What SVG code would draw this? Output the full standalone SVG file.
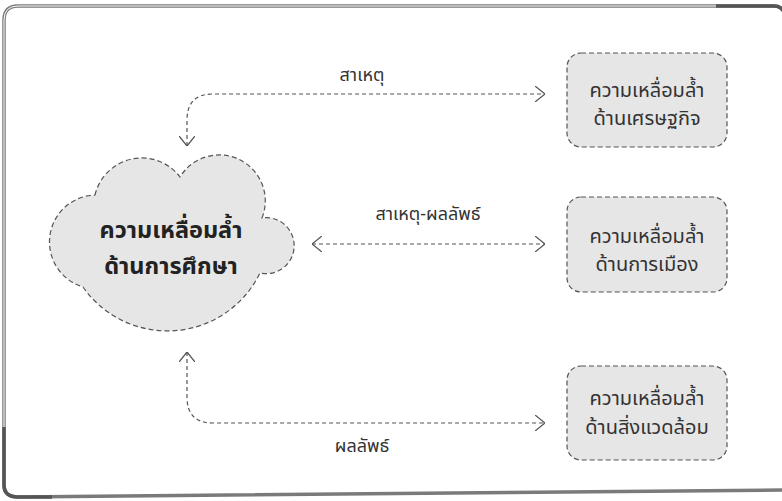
<svg xmlns="http://www.w3.org/2000/svg" width="782" height="501" viewBox="0 0 782 501">
<style>
.frame{fill:none;stroke:#7a7a7a;stroke-width:3.5}
.frame-in{fill:none;stroke:#fff;stroke-width:1}
.dark{fill:none;stroke:#555;stroke-width:3.5}
.node{fill:#e6e6e6;stroke:#555;stroke-width:1.2;stroke-dasharray:5 3}
.conn{fill:none;stroke:#555;stroke-width:1.2;stroke-dasharray:4 3;marker-start:url(#arr);marker-end:url(#arr)}
.t{font-family:"Noto Sans Thai","Noto Sans","DejaVu Sans",sans-serif;fill:#333;text-anchor:middle}
.bt{font-size:20px}
.ct{font-size:23.5px;font-weight:bold;fill:#222}
.lt{font-size:18px}
</style>
<defs>
<marker id="arr" viewBox="0 0 10 16" refX="10" refY="8" markerWidth="10" markerHeight="16" markerUnits="userSpaceOnUse" orient="auto-start-reverse">
<path d="M0,0 L10,8 L0,16" fill="none" stroke="#555" stroke-width="1.3"/>
</marker>
</defs>
<rect width="782" height="501" fill="#fff"/>
<g id="frame">
<path class="frame" d="M4,485 V20 Q4,6 18,6 H774 Q781,6 784,12 M18,497 L782,490 M4,485 Q4,497 18,497"/>
<path class="frame-in" d="M4,485 V20 Q4,6 18,6 H774 Q781,6 784,12 M4,485 Q4,497 18,497"/>
<path class="dark" d="M716,6 H774 Q781,6 784,12"/>
<path class="dark" d="M4,427 V485 Q4,497 18,497 H52"/>
</g>
<g id="connectors">
<path class="conn" d="M187,146 V120 Q187,94 213,94 H545"/>
<path class="conn" d="M312,244 H545"/>
<path class="conn" d="M187,352 V397 Q187,423 213,423 H545"/>
<text class="t lt" x="362" y="81">สาเหตุ</text>
<text class="t lt" x="428" y="220">สาเหตุ-ผลลัพธ์</text>
<text class="t lt" x="362" y="452">ผลลัพธ์</text>
</g>
<g id="cloud">
<path class="node" d="M95,195 A48,48 0 0 1 180,177 A46,46 0 0 1 262,218 A28,28 0 1 1 260,273 A103,103 0 0 1 83,287 A47,47 0 0 1 95,195 Z"/>
<text class="t ct" x="171" y="238">ความเหลื่อมล้ำ</text>
<text class="t ct" x="171" y="274">ด้านการศึกษา</text>
</g>
<g id="box-economy">
<rect class="node" x="567" y="53" width="160" height="94" rx="14"/>
<text class="t bt" x="647" y="97">ความเหลื่อมล้ำ</text>
<text class="t bt" x="647" y="125">ด้านเศรษฐกิจ</text>
</g>
<g id="box-politics">
<rect class="node" x="567" y="197" width="160" height="95" rx="14"/>
<text class="t bt" x="647" y="243">ความเหลื่อมล้ำ</text>
<text class="t bt" x="647" y="271">ด้านการเมือง</text>
</g>
<g id="box-environment">
<rect class="node" x="567" y="366" width="160" height="94" rx="14"/>
<text class="t bt" x="647" y="405">ความเหลื่อมล้ำ</text>
<text class="t bt" x="647" y="434">ด้านสิ่งแวดล้อม</text>
</g>
</svg>
